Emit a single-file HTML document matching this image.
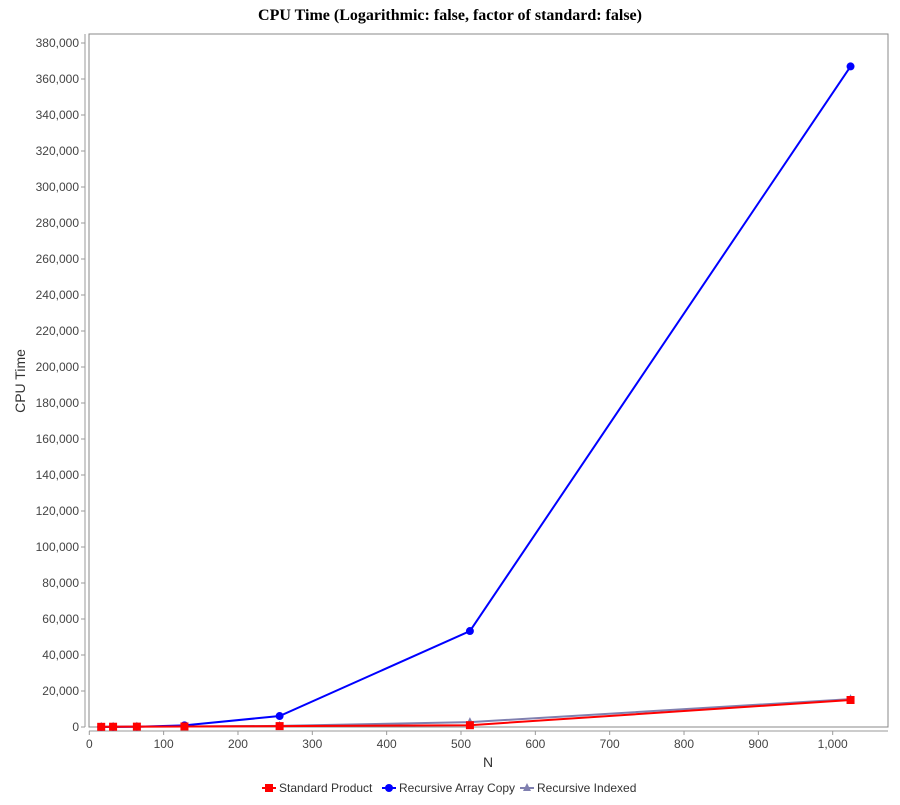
<!DOCTYPE html>
<html><head><meta charset="utf-8"><style>
body{margin:0;background:#fff;font-family:"Liberation Sans",sans-serif}
</style></head><body>
<svg id="c" width="900" height="800" xmlns="http://www.w3.org/2000/svg">
<rect width="900" height="800" fill="#fff"/>
<text x="450" y="20" text-anchor="middle" font-family="Liberation Serif,serif" font-weight="bold" font-size="16">CPU Time (Logarithmic: false, factor of standard: false)</text>
<rect x="89" y="34" width="799" height="693" fill="#fff" stroke="#888"/>
<g id="axes"></g>
<g id="series"></g>
<text x="488" y="767" text-anchor="middle" font-size="14" fill="#333">N</text>
<text transform="translate(25,381) rotate(-90)" text-anchor="middle" font-size="14" fill="#333">CPU Time</text>
<g id="legend" font-size="12" fill="#333"></g>
</svg>
<script>
const nValues=[16,32,64,128,256,512,1024];
const standardProduct=[100,150,200,300,500,1000,15000];
const recursiveArrayCopy=[50,100,150,900,6100,53300,367000];
const recursiveIndexed=[80,120,200,300,600,2700,15500];
const xTicks=[0,100,200,300,400,500,600,700,800,900,1000];
const yTicks=[0,20000,40000,60000,80000,100000,120000,140000,160000,180000,200000,220000,240000,260000,280000,300000,320000,340000,360000,380000];
const NS="http://www.w3.org/2000/svg";
const xs=v=>89.3+v*0.7434;
const ys=v=>727-v*0.0018;
const fmt=v=>v.toLocaleString('en-US');
function mk(t,a,p){const e=document.createElementNS(NS,t);for(const k in a)e.setAttribute(k,a[k]);p.appendChild(e);return e;}
const ax=document.getElementById('axes');
mk('line',{x1:89,y1:731,x2:888,y2:731,stroke:'#999'},ax);
mk('line',{x1:85,y1:34,x2:85,y2:727,stroke:'#999'},ax);
xTicks.forEach(v=>{const x=xs(v);
mk('line',{x1:x,y1:731,x2:x,y2:735,stroke:'#999'},ax);
const t=mk('text',{x:x,y:748,'text-anchor':'middle','font-size':12,fill:'#444'},ax);t.textContent=fmt(v);

});
yTicks.forEach(v=>{const y=ys(v);
mk('line',{x1:81,y1:y,x2:85,y2:y,stroke:'#999'},ax);
const t=mk('text',{x:79,y:y+4,'text-anchor':'end','font-size':12,fill:'#444'},ax);t.textContent=fmt(v);

});
const sg=document.getElementById('series');
function marker(kind,x,y,col,p){
 if(kind==='sq')return mk('rect',{x:x-4,y:y-4,width:8,height:8,fill:col},p);
 if(kind==='ci')return mk('circle',{cx:x,cy:y,r:4,fill:col},p);
 return mk('polygon',{points:`${x},${y-5} ${x+4},${y+3} ${x-4},${y+3}`,fill:col},p);}
function draw(vals,col,kind,name){
 const g=mk('g',{},sg);
 
 
 mk('polyline',{points:nValues.map((n,i)=>xs(n)+','+ys(vals[i])).join(' '),fill:'none',stroke:col,'stroke-width':2},g);
 nValues.forEach((n,i)=>{const m=marker(kind,xs(n),ys(vals[i]),col,g);
 
 });}
draw(recursiveIndexed,'#8080b0','tr','recursive-indexed-series');
draw(recursiveArrayCopy,'#0000ff','ci','recursive-array-copy-series');
draw(standardProduct,'#ff0000','sq','standard-product-series');
const lg=document.getElementById('legend');
const items=[['Standard Product','#ff0000','sq',262],['Recursive Array Copy','#0000ff','ci',382],['Recursive Indexed','#8080b0','tr',520]];
items.forEach(([lab,col,k,x])=>{
 const g=mk('g',{},lg);
 
 
 mk('line',{x1:x,y1:788,x2:x+14,y2:788,stroke:col,'stroke-width':2},g);
 marker(k,x+7,788,col,g);
 const t=mk('text',{x:x+17,y:792},g);t.textContent=lab;});
</script>
</body></html>
